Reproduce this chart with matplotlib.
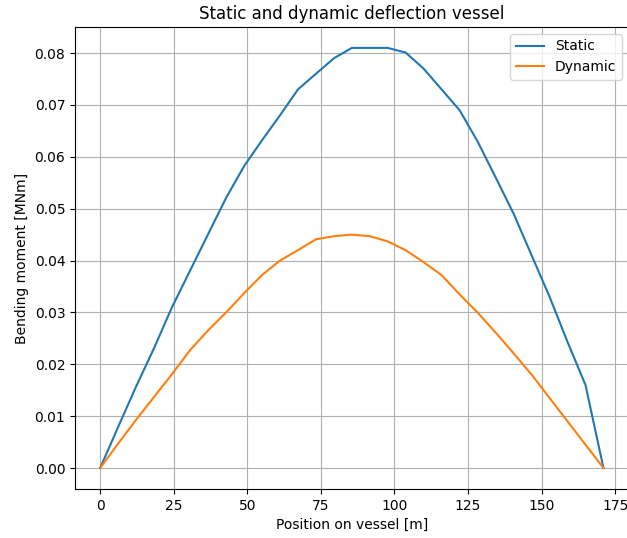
import numpy as np
import matplotlib
matplotlib.use("Agg")
import matplotlib.pyplot as plt

# Positions along the vessel [m]
position = [0.0, 6.1, 12.2, 18.3, 24.4, 30.5, 36.6, 42.8, 48.9, 55.0, 61.1,
            67.2, 73.3, 79.4, 85.5, 91.6, 97.7, 103.8, 109.9, 116.0, 122.1,
            128.2, 134.4, 140.5, 146.6, 152.7, 158.8, 164.9, 171.0]

# Bending moment [MNm]
static = [0.0, 0.0079, 0.0157, 0.0231, 0.0310, 0.0380, 0.0450, 0.0521, 0.0582,
          0.0632, 0.0680, 0.0730, 0.0760, 0.0790, 0.0810, 0.0810, 0.0810,
          0.0801, 0.0770, 0.0730, 0.0690, 0.0630, 0.0560, 0.0490, 0.0410,
          0.0330, 0.0243, 0.0160, 0.0]
dynamic = [0.0, 0.0047, 0.0093, 0.0137, 0.0181, 0.0227, 0.0265, 0.0300,
           0.0337, 0.0372, 0.0400, 0.0420, 0.0441, 0.0447, 0.0450, 0.0447,
           0.0437, 0.0420, 0.0397, 0.0372, 0.0335, 0.0300, 0.0261, 0.0221,
           0.0180, 0.0135, 0.0090, 0.0045, 0.0]

fig = plt.figure(figsize=(6.27, 5.38), dpi=100)
ax = fig.add_axes([0.1196, 0.091, 0.883, 0.859])

ax.plot(position, static, label="Static")
ax.plot(position, dynamic, label="Dynamic")

ax.set_title("Static and dynamic deflection vessel")
ax.set_xlabel("Position on vessel [m]")
ax.set_ylabel("Bending moment [MNm]")
ax.set_xticks([0, 25, 50, 75, 100, 125, 150, 175])
ax.grid(True)
ax.legend(loc="upper right")

fig.savefig("out.png", dpi=100)
